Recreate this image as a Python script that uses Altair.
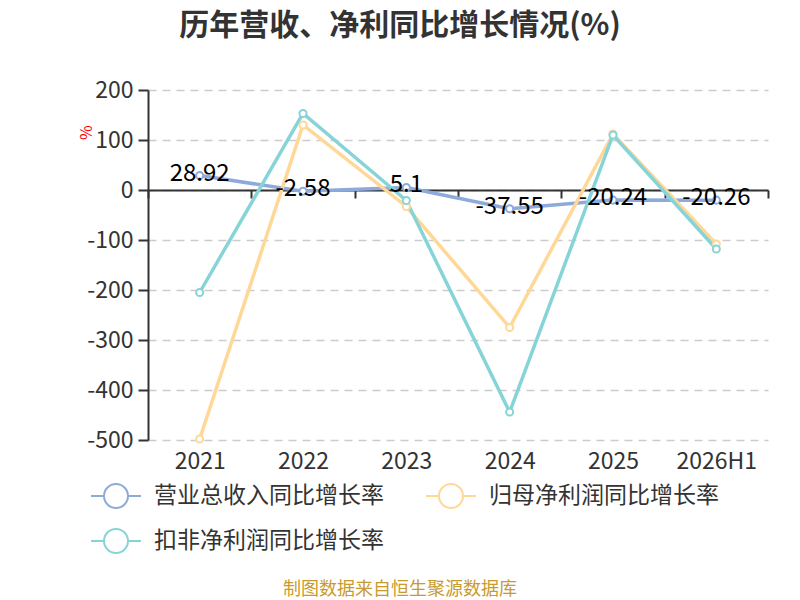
import altair as alt
import pandas as pd

periods = ["2021", "2022", "2023", "2024", "2025", "2026H1"]
series_names = ["营业总收入同比增长率", "归母净利润同比增长率", "扣非净利润同比增长率"]
revenue = [28.92, -2.58, 5.1, -37.55, -20.24, -20.26]
net_profit = [-498, 130, -33, -275, 112, -108]
deducted = [-205, 153, -21, -444, 110, -118]
revenue_labels = ["28.92", "-2.58", "5.1", "-37.55", "-20.24", "-20.26"]
colors = ["#8eaadb", "#ffd898", "#87d4d8"]
y_ticks = [200, 100, 0, -100, -200, -300, -400, -500]

rows = []
for name, vals in zip(series_names, [revenue, net_profit, deducted]):
    for p, v in zip(periods, vals):
        rows.append({"period": p, "series": name, "value": v})
df = pd.DataFrame(rows)
lab_df = pd.DataFrame({"period": periods, "value": revenue, "label": revenue_labels})

FONT = "Noto Sans CJK SC"

x_enc = alt.X(
    "period:N",
    sort=periods,
    scale=alt.Scale(type="band", paddingInner=0, paddingOuter=0),
    axis=alt.Axis(
        title=None, orient="bottom", offset=-250, domainColor="#333", domainWidth=2,
        tickBand="extent", tickSize=8, tickColor="#333", tickWidth=2,
        labelPadding=252, labelFontSize=23, labelColor="#333", labelFont=FONT,
        grid=False, labelAngle=0,
    ),
)
y_enc = alt.Y(
    "value:Q",
    scale=alt.Scale(domain=[-500, 200], nice=False, zero=False),
    axis=alt.Axis(
        values=y_ticks, title="%", titleColor="red", titleFontSize=16, titleFont=FONT,
        titleFontWeight="normal", titleAngle=270, titleX=-62, titleY=42,
        titleAlign="center", titleBaseline="middle",
        domainColor="#333", domainWidth=2, tickSize=10, tickColor="#333", tickWidth=2,
        labelFontSize=23, labelColor="#333", labelFont=FONT, labelPadding=5,
        labelExpr="'' + datum.value",
        grid=True, gridDash=[8, 6], gridColor="#cccccc", gridWidth=1.5,
    ),
)
color_enc = alt.Color(
    "series:N",
    sort=series_names,
    scale=alt.Scale(domain=series_names, range=colors),
    legend=alt.Legend(
        title=None, orient="none", legendX=-58, legendY=380, columns=2, direction="horizontal",
        symbolType="M-1,0L-0.48,0M0.48,0L1,0M0.48,0A0.48,0.48,0,1,1,-0.48,0A0.48,0.48,0,1,1,0.48,0",
        symbolSize=2500, symbolStrokeWidth=2, symbolFillColor="white",
        labelFontSize=23, labelColor="#333", labelFont=FONT, labelOffset=12,
        columnPadding=38, rowPadding=3, labelLimit=400,
    ),
)

lines = alt.Chart(df).mark_line(strokeWidth=3.5).encode(x=x_enc, y=y_enc, color=color_enc)
points = alt.Chart(df).mark_point(filled=True, fill="white", size=50, strokeWidth=2, opacity=1).encode(
    x=x_enc, y=y_enc, stroke=alt.Stroke("series:N", sort=series_names,
                                        scale=alt.Scale(domain=series_names, range=colors), legend=None)
)
labels = alt.Chart(lab_df).mark_text(fontSize=24, font=FONT, color="#000", baseline="middle", dy=-2).encode(
    x=alt.X("period:N", sort=periods), y="value:Q", text="label:N"
)
footer = alt.Chart(pd.DataFrame({"t": ["制图数据来自恒生聚源数据库"]})).mark_text(
    fontSize=18, font=FONT, color="#c99a2e", align="center", baseline="middle"
).encode(x=alt.value(252), y=alt.value(500), text="t:N")

chart = alt.layer(lines, points, labels, footer).properties(
    width=620, height=350,
    autosize=alt.AutoSizeParams(type="none"),
    padding={"left": 140, "top": 82, "right": 24, "bottom": 160},
    title=alt.TitleParams(
        "历年营收、净利同比增长情况(%)", fontSize=30, font=FONT, fontWeight="bold",
        color="#333", anchor="middle", dx=-58, offset=38,
    ),
).configure_view(stroke=None)

chart.save("out.html", embed_options={"renderer": "svg", "actions": False})
